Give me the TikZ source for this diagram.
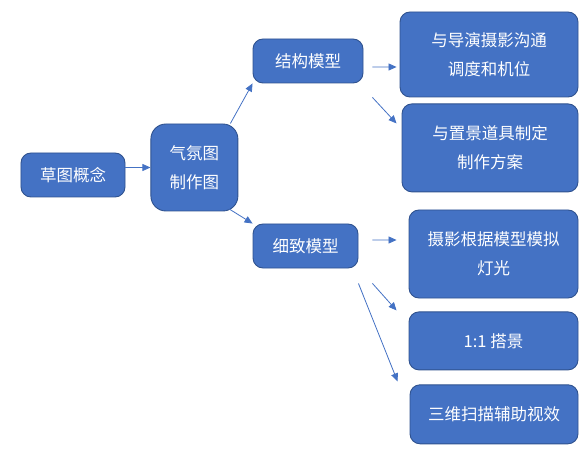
\documentclass[tikz,border=0pt]{standalone}
\usepackage{fontspec}
\setmainfont{Noto Sans CJK SC}
\usetikzlibrary{arrows.meta, positioning}
\definecolor{boxblue}{HTML}{4472C4}
\definecolor{boxedge}{HTML}{2F528F}

\begin{document}
\begin{tikzpicture}[x=1bp, y=-1bp,
    font=\fontsize{16.5bp}{29bp}\selectfont,
    box/.style={draw=boxedge, line width=0.9bp, fill=boxblue, text=white,
        rounded corners=10bp, align=center, inner sep=2bp},
    arr/.style={draw=boxblue, line width=0.8bp, -{Triangle[length=8bp, width=7bp]}}]
    \useasboundingbox (0,0) rectangle (586,463);

    \node[box, minimum width=104bp, minimum height=44bp] (sketch) at (73,175) {草图概念};
    \node[box, minimum width=87bp, minimum height=87bp, rounded corners=15bp,
        right=25bp of sketch, yshift=7.5bp] (mood) {气氛图\\制作图};
    \node[box, minimum width=110bp, minimum height=44bp] (struct) at (308,61) {结构模型};
    \node[box, minimum width=105bp, minimum height=44bp] (detail) at (305.5,246) {细致模型};

    \node[box, minimum width=178bp, minimum height=85bp] (talk) at (489,54.5) {与导演摄影沟通\\调度和机位};
    \node[box, minimum width=176bp, minimum height=88bp, below=6bp of talk, xshift=1bp] (plan) {与置景道具制定\\制作方案};
    \node[box, minimum width=169bp, minimum height=88bp] (light) at (493.5,254) {摄影根据模型模拟\\灯光};
    \node[box, minimum width=169bp, minimum height=58bp, below=13bp of light] (set) {1:1 搭景};
    \node[box, minimum width=168bp, minimum height=59bp, below=14bp of set, xshift=0.5bp] (scan) {三维扫描辅助视效};

    \draw[arr] (sketch.east |- mood.west) -- (mood.west);
    \draw[arr] ([xshift=-8bp]mood.north east) -- (struct.south west);
    \draw[arr] ([xshift=-10bp, yshift=3bp]mood.south east) -- (detail.north west);
    \draw[arr] ([xshift=9bp, yshift=-6bp]struct.east) -- ([xshift=-3bp, yshift=-12.5bp]talk.west);
    \draw[arr] ([xshift=9bp, yshift=-14bp]struct.south east) -- ([xshift=-5bp, yshift=-20bp]plan.north west);
    \draw[arr] ([xshift=14bp, yshift=6bp]detail.east) -- ([xshift=-12bp, yshift=14bp]light.west);
    \draw[arr] ([xshift=14bp, yshift=-15bp]detail.south east) -- ([xshift=-12bp, yshift=1bp]set.north west);
    \draw[arr] ([yshift=-15bp]detail.south east) -- ([xshift=-12bp, yshift=3bp]scan.north west);
\end{tikzpicture}
\end{document}
